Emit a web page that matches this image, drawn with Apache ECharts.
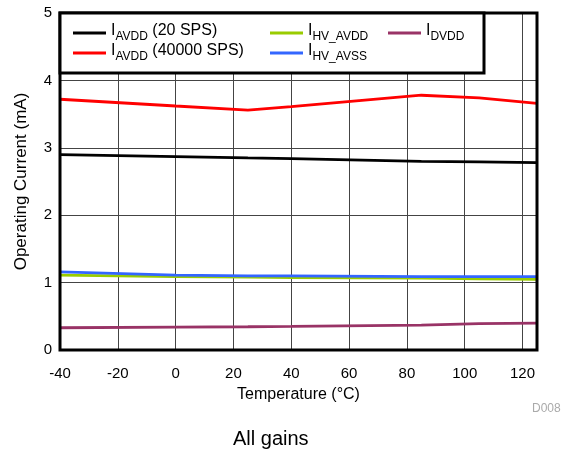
<!DOCTYPE html>
<html>
<head>
<meta charset="utf-8">
<script src="https://cdn.jsdelivr.net/npm/echarts@6/dist/echarts.min.js"></script>
<style>html,body{margin:0;padding:0;background:#fff}#c{width:561px;height:452px}</style>
</head>
<body>
<div id="c"></div>
<script>
var temps = [-40, 0, 25, 40, 85, 105, 125];
var iavdd20 = [2.90, 2.87, 2.85, 2.84, 2.80, 2.79, 2.78];
var iavdd40000 = [3.72, 3.62, 3.56, 3.61, 3.78, 3.74, 3.66];
var ihvAvdd = [1.11, 1.09, 1.08, 1.075, 1.065, 1.055, 1.05];
var ihvAvss = [1.16, 1.11, 1.10, 1.10, 1.09, 1.09, 1.09];
var idvdd = [0.33, 0.34, 0.345, 0.35, 0.37, 0.39, 0.40];
var xTicks = [-40, -20, 0, 20, 40, 60, 80, 100, 120];
var yTicks = [0, 1, 2, 3, 4, 5];

function pairs(ys) { return temps.map(function (t, i) { return [t, ys[i]]; }); }

var legendLabels = {
  'IAVDD (20 SPS)': '{i|I}{s|AVDD}{i| (20 SPS)}',
  'IAVDD (40000 SPS)': '{i|I}{s|AVDD}{i| (40000 SPS)}',
  'IHV_AVDD': '{i|I}{s|HV_AVDD}',
  'IHV_AVSS': '{i|I}{s|HV_AVSS}',
  'IDVDD': '{i|I}{s|DVDD}'
};
var FONT = 'Liberation Sans, Arial, Helvetica, sans-serif';
var richText = {
  i: { fontSize: 16, lineHeight: 20, verticalAlign: 'top', color: '#000', fontFamily: FONT },
  s: { fontSize: 12, lineHeight: 12, verticalAlign: 'bottom', color: '#000', fontFamily: FONT }
};
function mkLegend(left, names) {
  return {
    orient: 'vertical', left: left, top: 23, padding: 0, itemGap: 0,
    itemWidth: 33, itemHeight: 3, icon: 'rect', z: 10,
    data: names,
    formatter: function (n) { return legendLabels[n]; },
    textStyle: { rich: richText, fontFamily: FONT },
    selectedMode: false
  };
}
function mkSeries(name, ys, color) {
  return {
    name: name, type: 'line', data: pairs(ys), symbol: 'none',
    lineStyle: { color: color, width: 2.8 }, itemStyle: { color: color },
    z: 3, animation: false
  };
}

var chart = echarts.init(document.getElementById('c'), null, { renderer: 'canvas' });
chart.setOption({
  animation: false,
  backgroundColor: '#fff',
  textStyle: { fontFamily: FONT },
  grid: { left: 60, right: 24, top: 13, bottom: 102, show: true, borderColor: '#000', borderWidth: 3, backgroundColor: 'transparent', z: 5 },
  title: {
    text: 'All gains', left: 228, top: 424,
    textStyle: { fontSize: 20, fontWeight: 'normal', color: '#000', fontFamily: FONT }
  },
  graphic: [
    { type: 'rect', z: 8, shape: { x: 60, y: 13, width: 424, height: 60 }, style: { fill: '#fff', stroke: '#000', lineWidth: 3 } },
    { type: 'text', z: 8, left: 532, top: 403, style: { text: 'D008', fill: '#aaa', fontSize: 12, fontFamily: FONT } }
  ],
  legend: [
    mkLegend(73, ['IAVDD (20 SPS)', 'IAVDD (40000 SPS)']),
    mkLegend(270, ['IHV_AVDD', 'IHV_AVSS']),
    mkLegend(388, ['IDVDD'])
  ],
  xAxis: {
    type: 'value', min: -40, max: 125, interval: 20,
    name: 'Temperature (°C)', nameLocation: 'middle', nameGap: 37,
    nameTextStyle: { fontSize: 16, color: '#000', fontFamily: FONT },
    axisLine: { show: false }, axisTick: { show: false },
    axisLabel: { fontSize: 15, color: '#000', margin: 16, showMaxLabel: false, fontFamily: FONT,
      formatter: function (v) { return xTicks.indexOf(v) >= 0 ? String(v) : ''; } },
    splitLine: { show: true, lineStyle: { color: '#444', width: 1 } }
  },
  yAxis: {
    type: 'value', min: 0, max: 5, interval: 1,
    name: 'Operating Current (mA)', nameLocation: 'middle', nameGap: 30,
    nameTextStyle: { fontSize: 17, color: '#000', fontFamily: FONT },
    axisLine: { show: false }, axisTick: { show: false },
    axisLabel: { fontSize: 15, color: '#000', margin: 8, fontFamily: FONT,
      formatter: function (v) { return yTicks.indexOf(v) >= 0 ? String(v) : ''; } },
    splitLine: { show: true, lineStyle: { color: '#444', width: 1 } }
  },
  series: [
    mkSeries('IAVDD (20 SPS)', iavdd20, '#000000'),
    mkSeries('IAVDD (40000 SPS)', iavdd40000, '#ff0000'),
    mkSeries('IHV_AVDD', ihvAvdd, '#99cc00'),
    mkSeries('IHV_AVSS', ihvAvss, '#3366ff'),
    mkSeries('IDVDD', idvdd, '#993366')
  ]
});
</script>
</body>
</html>
